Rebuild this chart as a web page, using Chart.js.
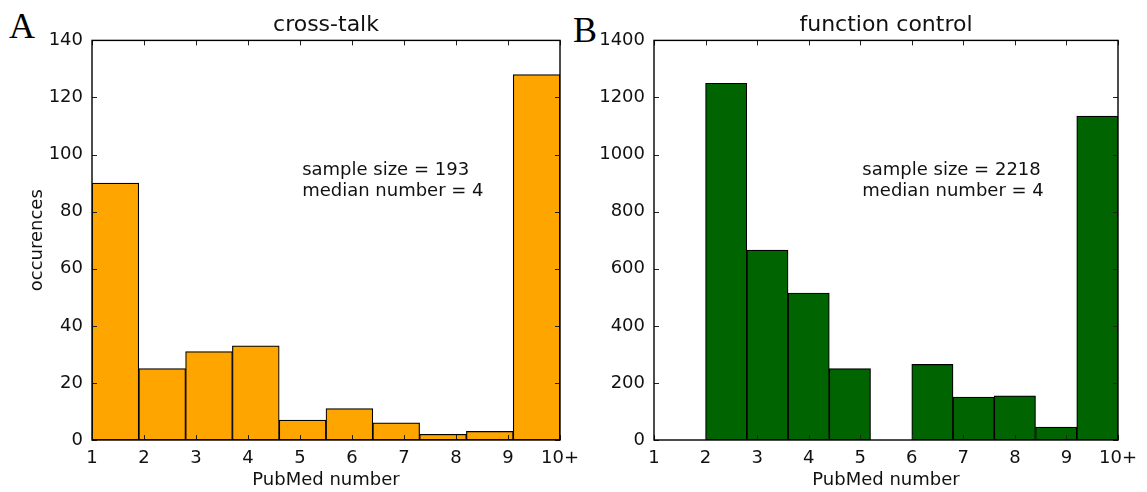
<!DOCTYPE html>
<html>
<head>
<meta charset="utf-8">
<script src="https://cdn.jsdelivr.net/npm/chart.js@4/dist/chart.umd.min.js"></script>
<style>
  body { margin: 0; background: #fff; width: 1147px; height: 492px; overflow: hidden; position: relative; }
  .panel { position: absolute; top: 0; }
  .letter { position: absolute; font-family: 'Liberation Serif', serif; font-size: 36px; line-height: 1; color: #000; }
</style>
</head>
<body>
<div class="letter" style="left:9px; top:8px;">A</div>
<div class="letter" style="left:573px; top:12px;">B</div>
<div class="panel" style="left:0px;"><canvas id="chartA" width="590" height="492"></canvas></div>
<div class="panel" style="left:573px;"><canvas id="chartB" width="574" height="492"></canvas></div>
<script>
// bin centres (x) and counts
const crossTalkBins = [1.45, 2.35, 3.25, 4.15, 5.05, 5.95, 6.85, 7.75, 8.65, 9.55];
const crossTalkCounts = [90, 25, 31, 33, 7, 11, 6, 2, 3, 128];

const controlBins = [2.4, 3.2, 4.0, 4.8, 5.6, 6.4, 7.2, 8.0, 8.8, 9.6];
const controlCounts = [1250, 665, 515, 250, 0, 265, 150, 155, 45, 1135];

const xTicks = [1, 2, 3, 4, 5, 6, 7, 8, 9, 10];
const xTickLabels = ['1', '2', '3', '4', '5', '6', '7', '8', '9', '10+'];

const notesA = ['sample size = 193', 'median number = 4'];
const notesB = ['sample size = 2218', 'median number = 4'];

const FONT = "'DejaVu Sans', sans-serif";

// matplotlib style box with inward ticks on all sides + text note
const frameTicks = {
  id: 'frameTicks',
  afterDatasetsDraw(chart, args, opts) {
    const {ctx, chartArea: a, scales: {x, y}} = chart;
    ctx.save();
    ctx.strokeStyle = '#222';
    ctx.lineWidth = 1;
    ctx.beginPath();
    x.ticks.forEach(t => {
      const px = Math.round(x.getPixelForValue(t.value)) + 0.5;
      ctx.moveTo(px, a.bottom); ctx.lineTo(px, a.bottom - 5);
      ctx.moveTo(px, a.top); ctx.lineTo(px, a.top + 5);
    });
    y.ticks.forEach(t => {
      const py = Math.round(y.getPixelForValue(t.value)) + 0.5;
      ctx.moveTo(a.left, py); ctx.lineTo(a.left + 5, py);
      ctx.moveTo(a.right, py); ctx.lineTo(a.right - 5, py);
    });
    ctx.stroke();
    ctx.strokeStyle = '#000';
    ctx.lineWidth = 1.4;
    ctx.strokeRect(a.left, a.top, a.width, a.height);

    ctx.fillStyle = '#111';
    ctx.font = '18px ' + FONT;
    ctx.textBaseline = 'middle';
    ctx.textAlign = 'left';
    const tx = a.left + a.width * 0.449;
    const ty = a.top + a.height * 0.325;
    opts.lines.forEach((l, i) => ctx.fillText(l, tx, ty + i * 21));
    ctx.restore();
  }
};

function makeChart(id, title, bins, counts, color, yMax, yStep, yTitle, yWidth, padRight, notes) {
  return new Chart(document.getElementById(id), {
    type: 'bar',
    data: {
      datasets: [{
        data: bins.map((b, i) => ({x: b, y: counts[i]})),
        backgroundColor: color,
        borderColor: '#000',
        borderWidth: 1.2,
        borderSkipped: false,
        barPercentage: 1,
        categoryPercentage: 1
      }]
    },
    options: {
      responsive: false,
      animation: false,
      layout: { padding: { left: 0, right: padRight, top: 0, bottom: 0 } },
      plugins: {
        legend: { display: false },
        tooltip: { enabled: false },
        title: {
          display: true,
          fullSize: false,
          text: title,
          color: '#111',
          font: { family: FONT, size: 22, weight: 'normal' },
          padding: { top: 12, bottom: 2 }
        },
        frameTicks: { lines: notes }
      },
      scales: {
        x: {
          type: 'linear',
          min: 1,
          max: 10,
          offset: false,
          grid: { display: false },
          border: { display: false },
          afterBuildTicks: s => { s.ticks = xTicks.map(v => ({value: v})); },
          ticks: {
            color: '#111',
            font: { family: FONT, size: 18 },
            padding: 0,
            maxRotation: 0,
            autoSkip: false,
            callback: v => xTickLabels[xTicks.indexOf(v)]
          },
          title: {
            display: true,
            text: 'PubMed number',
            color: '#111',
            font: { family: FONT, size: 18 },
            padding: { top: 0, bottom: 1 }
          },
          afterFit: s => { s.height = 52; s.paddingLeft = 0; s.paddingRight = 0; }
        },
        y: {
          min: 0,
          max: yMax,
          grid: { display: false },
          border: { display: false },
          ticks: {
            stepSize: yStep,
            color: '#111',
            font: { family: FONT, size: 18 },
            padding: 1,
            callback: v => String(v)
          },
          title: {
            display: !!yTitle,
            text: yTitle,
            color: '#111',
            font: { family: FONT, size: 18 },
            padding: { top: 27, bottom: 0 }
          },
          afterFit: s => { s.width = yWidth; s.paddingTop = 0; s.paddingBottom = 0; }
        }
      }
    },
    plugins: [frameTicks]
  });
}

makeChart('chartA', 'cross-talk', crossTalkBins, crossTalkCounts, '#FFA500', 140, 20, 'occurences', 92, 30, notesA);
makeChart('chartB', 'function control', controlBins, controlCounts, '#006400', 1400, 200, '', 81, 29, notesB);
</script>
</body>
</html>
